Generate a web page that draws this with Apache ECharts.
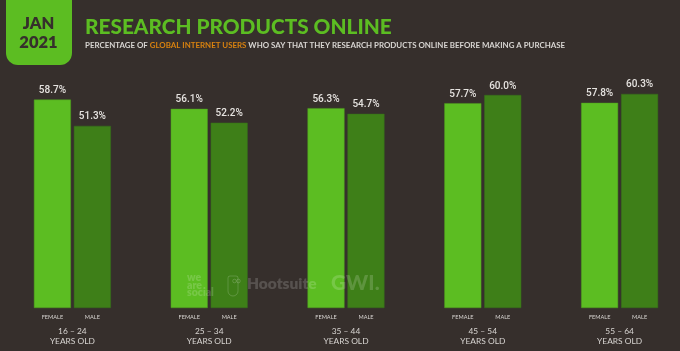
<!DOCTYPE html>
<html>
<head>
<meta charset="utf-8">
<style>
  html, body { margin: 0; padding: 0; background: #362f2c; }
  #chart { width: 680px; height: 351px; }
</style>
<script src="https://cdn.jsdelivr.net/npm/echarts@6/dist/echarts.min.js"></script>
</head>
<body>
<div id="chart"></div>
<script>
const ageGroups = ['16 – 24', '25 – 34', '35 – 44', '45 – 54', '55 – 64'];
const female = [58.7, 56.1, 56.3, 57.7, 57.8];
const male = [51.3, 52.2, 54.7, 60.0, 60.3];
const axisBase = [0, 0, 0, 0, 0]; // only carries the FEMALE / MALE captions

const bg = '#362f2c';
const green = '#5cbd22';
const darkGreen = '#3e7f18';
const headFont = 'Lato, sans-serif';
const markFill = 'rgba(255,255,255,0.17)';

const myChart = echarts.init(document.getElementById('chart'), null, { renderer: 'canvas' });

const valueBar = (name, data, color, border) => ({
  name,
  type: 'bar',
  data,
  barWidth: 37,
  barGap: '8%',
  itemStyle: { color, borderColor: border, borderWidth: 0.5 },
  label: {
    show: true,
    position: 'top',
    distance: 4,
    formatter: (p) => p.value.toFixed(1) + '%',
    color: '#e6e3e0',
    fontFamily: 'Roboto, sans-serif',
    fontWeight: 500,
    fontSize: 10
  }
});

const captionBar = (name) => ({
  name,
  type: 'bar',
  xAxisIndex: 1,
  data: axisBase,
  barWidth: 37,
  barGap: '8%',
  silent: true,
  itemStyle: { color: 'transparent' },
  label: {
    show: true,
    position: 'bottom',
    distance: 6,
    formatter: name,
    color: '#d8d5d2',
    fontFamily: headFont,
    fontSize: 5.6
  }
});

const option = {
  backgroundColor: bg,
  animation: false,
  title: [
    {
      text: 'RESEARCH PRODUCTS ONLINE',
      left: 85,
      top: 15,
      padding: 0,
      textStyle: { color: green, fontFamily: headFont, fontWeight: 900, fontSize: 20.8, lineHeight: 24 }
    },
    {
      text: '{w|PERCENTAGE OF }{o|GLOBAL INTERNET USERS}{w| WHO SAY THAT THEY RESEARCH PRODUCTS ONLINE BEFORE MAKING A PURCHASE}',
      left: 85,
      top: 41,
      padding: 0,
      textStyle: {
        rich: {
          w: { color: '#d8d5d2', fontFamily: headFont, fontSize: 7.9 },
          o: { color: '#d9820f', fontFamily: headFont, fontSize: 7.9 }
        }
      }
    }
  ],
  grid: { left: 4, top: 59.5, width: 684, bottom: 43, outerBoundsMode: 'none' },
  xAxis: [
    {
      type: 'category',
      data: ageGroups,
      axisLine: { show: false },
      axisTick: { show: false },
      axisLabel: {
        margin: 18,
        interval: 0,
        formatter: (v) => v + '\nYEARS OLD',
        color: '#d8d5d2',
        fontFamily: headFont,
        fontSize: 8.4,
        lineHeight: 10
      }
    },
    {
      type: 'category',
      data: ageGroups,
      position: 'bottom',
      axisLine: { show: false },
      axisTick: { show: false },
      axisLabel: { show: false }
    }
  ],
  yAxis: { type: 'value', min: 0, max: 70, show: false },
  graphic: [
    {
      type: 'rect',
      shape: { x: 6, y: -12, width: 66, height: 77, r: 12 },
      style: { fill: green }
    },
    {
      type: 'text',
      x: 38.5,
      y: 33.5,
      style: {
        text: 'JAN\n2021',
        fill: bg,
        font: '800 16.5px Lato, sans-serif',
        lineHeight: 19,
        textAlign: 'center',
        textVerticalAlign: 'middle'
      }
    },
    // faded source marks, sitting over the bars
    {
      type: 'text',
      x: 187,
      y: 274,
      z: 50,
      style: {
        text: 'we\nare\nsocial',
        fill: markFill,
        font: '800 10.5px Lato, sans-serif',
        lineHeight: 7.5
      }
    },
    {
      type: 'rect',
      z: 50,
      shape: { x: 228, y: 276, width: 10, height: 20, r: [2, 2, 6, 6] },
      style: { fill: 'transparent', stroke: markFill, lineWidth: 1 }
    },
    {
      type: 'circle',
      z: 50,
      shape: { cx: 234.5, cy: 281, r: 1.8 },
      style: { fill: 'transparent', stroke: markFill, lineWidth: 1 }
    },
    {
      type: 'circle',
      z: 50,
      shape: { cx: 238.5, cy: 281, r: 1.8 },
      style: { fill: 'transparent', stroke: markFill, lineWidth: 1 }
    },
    {
      type: 'text',
      x: 247,
      y: 276,
      z: 50,
      style: {
        text: 'Hootsuite',
        fill: markFill,
        font: '800 15.5px Lato, sans-serif'
      }
    },
    {
      type: 'text',
      x: 331,
      y: 273,
      z: 50,
      style: {
        text: 'GWI.',
        fill: markFill,
        font: '900 21px Lato, sans-serif'
      }
    }
  ],
  series: [
    valueBar('Female', female, green, '#4f9f1f'),
    valueBar('Male', male, darkGreen, '#37711a'),
    captionBar('FEMALE'),
    captionBar('MALE')
  ]
};

myChart.setOption(option);
</script>
</body>
</html>
